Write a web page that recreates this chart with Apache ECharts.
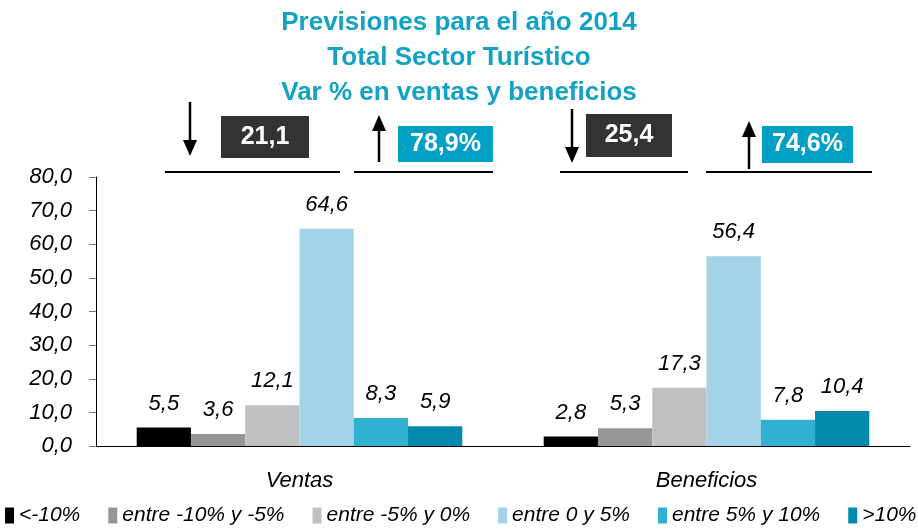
<!DOCTYPE html>
<html>
<head>
<meta charset="utf-8">
<script src="https://cdn.jsdelivr.net/npm/echarts@6/dist/echarts.min.js"></script>
<style>
  html, body { margin: 0; padding: 0; background: #fff; }
  #chart { width: 918px; height: 529px; }
</style>
</head>
<body>
<div id="chart"></div>
<script>
// categorías y series
const categories = ['Ventas', 'Beneficios']
const seriesNames = ['<-10%', 'entre -10% y -5%', 'entre -5% y 0%', 'entre 0 y 5%', 'entre 5% y 10%', '>10%']
const menos10 = [5.5, 2.8]
const entreMenos10yMenos5 = [3.6, 5.3]
const entreMenos5y0 = [12.1, 17.3]
const entre0y5 = [64.6, 56.4]
const entre5y10 = [8.3, 7.8]
const mas10 = [5.9, 10.4]
const seriesValues = [menos10, entreMenos10yMenos5, entreMenos5y0, entre0y5, entre5y10, mas10]
const colors = ['#000000', '#969696', '#c0c0c0', '#a4d2e7', '#31b1d2', '#0489ae']

// totales de arriba (bajan / suben)
const bajan = ['21,1', '25,4']
const suben = ['78,9%', '74,6%']

const fmt = v => v.toFixed(1).replace('.', ',')
const font = 'Liberation Sans, Arial, sans-serif'

const chart = echarts.init(document.getElementById('chart'))

// flecha: línea + triángulo
const arrow = (x, y1, y2) => {
  const down = y2 > y1
  const h = 16
  const baseY = down ? y2 - h : y2 + h
  return [
    { type: 'line', shape: { x1: x, y1: y1, x2: x, y2: baseY }, style: { stroke: '#000', lineWidth: 2.5 } },
    { type: 'polygon', shape: { points: [[x - 7, baseY], [x + 7, baseY], [x, y2]] }, style: { fill: '#000' } }
  ]
}
const box = (x, y, w, h, color, text) => [
  { type: 'rect', shape: { x: x, y: y, width: w, height: h }, style: { fill: color } },
  { type: 'text', x: x + w / 2, y: y + h / 2, style: { text: text, fill: '#fff', font: 'bold 25px ' + font, align: 'center', verticalAlign: 'middle' } }
]
const hline = (x1, x2, y) => ({ type: 'line', shape: { x1: x1, y1: y, x2: x2, y2: y }, style: { stroke: '#000', lineWidth: 2 } })

const graphics = [].concat(
  arrow(190, 102, 156),
  box(221, 116, 88, 42, '#333333', bajan[0]),
  hline(165, 340, 172),
  arrow(379, 162, 115),
  box(398, 126, 95, 36, '#00a0c4', suben[0]),
  hline(354, 493, 172),
  arrow(572, 109, 163),
  box(586, 114, 86, 43, '#333333', bajan[1]),
  hline(560, 688, 172),
  arrow(749, 169, 121),
  box(762, 126, 91, 37, '#00a0c4', suben[1]),
  hline(706, 872, 172)
)

const option = {
  animation: false,
  color: colors,
  title: {
    text: 'Previsiones para el año 2014\nTotal Sector Turístico\nVar % en ventas y beneficios',
    left: 'center',
    top: 0,
    textStyle: {
      color: '#13a1c4',
      fontFamily: font,
      fontWeight: 'bold',
      fontSize: 26,
      lineHeight: 35
    }
  },
  legend: {
    data: seriesNames,
    left: 5,
    bottom: 3,
    width: 940,
    padding: 0,
    icon: 'rect',
    itemWidth: 9,
    itemHeight: 16,
    itemGap: 28,
    textStyle: { fontFamily: font, fontStyle: 'italic', fontSize: 21, color: '#000' }
  },
  grid: { left: 96, right: 8, top: 177, bottom: 83 },
  xAxis: {
    type: 'category',
    data: categories,
    axisLine: { lineStyle: { color: '#000', width: 1 } },
    axisTick: { length: 5, lineStyle: { color: '#000' } },
    axisLabel: { margin: 24, fontFamily: font, fontStyle: 'italic', fontSize: 22, color: '#000' }
  },
  yAxis: {
    type: 'value',
    min: 0,
    max: 80,
    interval: 10,
    splitLine: { show: false },
    axisLine: { show: true, lineStyle: { color: '#000', width: 1 } },
    axisTick: { show: true, length: 7, lineStyle: { color: '#777' } },
    axisLabel: { margin: 24, formatter: fmt, fontFamily: font, fontStyle: 'italic', fontSize: 22, color: '#000' }
  },
  series: seriesNames.map((name, i) => ({
    name: name,
    type: 'bar',
    data: seriesValues[i],
    barGap: 0,
    barCategoryGap: '20%',
    label: {
      show: true,
      position: 'top',
      distance: 13,
      formatter: p => fmt(p.value),
      fontFamily: font,
      fontStyle: 'italic',
      fontSize: 22,
      color: '#000'
    }
  })),
  graphic: graphics
}

chart.setOption(option)
</script>
</body>
</html>
